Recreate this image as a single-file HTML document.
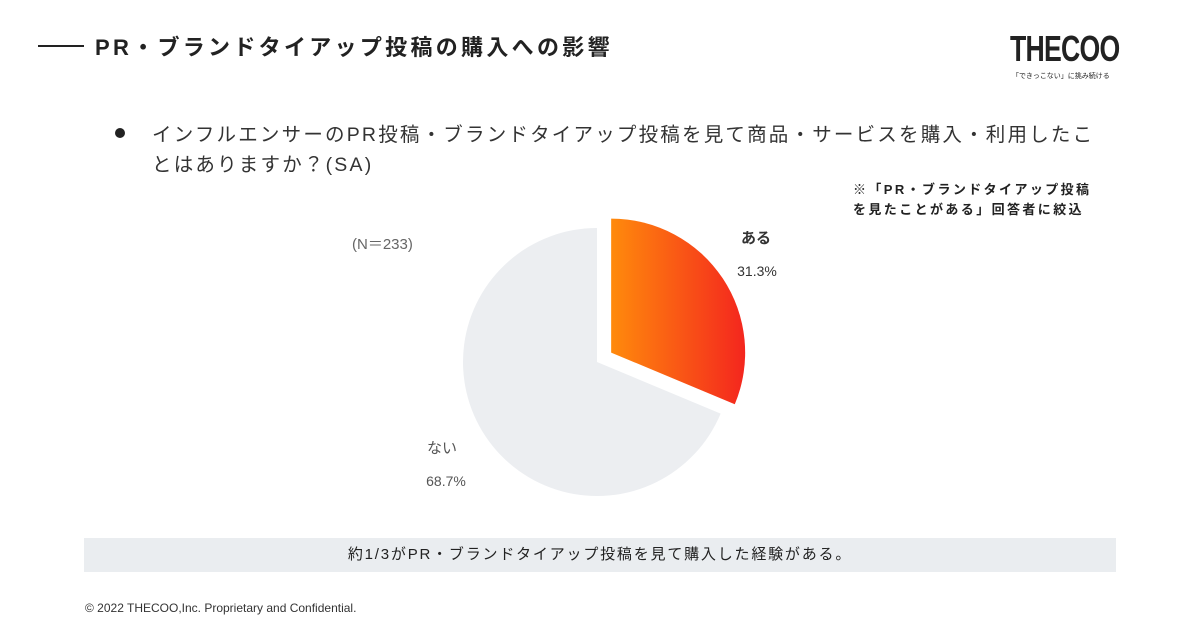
<!DOCTYPE html>
<html><head><meta charset="utf-8"><style>
body{margin:0;width:1200px;height:630px;background:#fff;font-family:"Liberation Sans","Noto Sans CJK JP",sans-serif;position:relative;overflow:hidden;color:#222}
.abs{position:absolute;white-space:nowrap}
</style></head><body>
<div class="abs" style="left:38px;top:45px;width:46px;height:2px;background:#222"></div>
<div class="abs" style="left:95px;top:30px;font-size:22px;font-weight:bold;letter-spacing:3.3px">PR・ブランドタイアップ投稿の購入への影響</div>
<div class="abs" style="left:1010px;top:28px;font-size:36px;font-weight:bold;letter-spacing:-1px;transform:scaleX(0.74);transform-origin:left;font-family:'Liberation Sans Narrow','Liberation Sans',sans-serif">THECOO</div>
<div class="abs" style="left:1012px;top:71px;font-size:7px">「できっこない」に挑み続ける</div>
<div class="abs" style="left:115px;top:128px;width:10px;height:10px;border-radius:50%;background:#222"></div>
<div class="abs" style="left:152px;top:120px;font-size:19.5px;line-height:30px;color:#333;letter-spacing:2.2px">インフルエンサーのPR投稿・ブランドタイアップ投稿を見て商品・サービスを購入・利用したこ<br>とはありますか？(SA)</div>
<div class="abs" style="left:853px;top:180px;font-size:13px;font-weight:bold;line-height:20px;letter-spacing:2.4px">※「PR・ブランドタイアップ投稿<br>を見たことがある」回答者に絞込</div>
<div class="abs" style="left:352px;top:233px;font-size:15px;color:#666">(N＝233)</div>
<svg class="abs" style="left:0;top:0" width="1200" height="630">
<defs><linearGradient id="g" x1="0" x2="1" y1="0" y2="0"><stop offset="0" stop-color="#ff8a0c"/><stop offset="1" stop-color="#f4261e"/></linearGradient></defs>
<g id="pie"></g>
<text x="756" y="243" font-size="15" font-weight="bold" text-anchor="middle" fill="#333">ある</text>
<text x="757" y="276" font-size="14" text-anchor="middle" fill="#333">31.3%</text>
<text x="442" y="453" font-size="15" text-anchor="middle" fill="#555">ない</text>
<text x="446" y="486" font-size="14" text-anchor="middle" fill="#555">68.7%</text>
</svg>
<div class="abs" style="left:84px;top:538px;width:1032px;height:34px;background:#eaedf0;font-size:15px;line-height:34px;text-align:center;color:#222;letter-spacing:1.8px">約1/3がPR・ブランドタイアップ投稿を見て購入した経験がある。</div>
<div class="abs" style="left:85px;top:601px;font-size:12px;color:#333">© 2022 THECOO,Inc. Proprietary and Confidential.</div>
<script>
const categories=["ある","ない"];
const values=[31.3,68.7];
const cx=597,cy=362,r=134,explode=[17,0];
const fills=["url(#g)","#eceef1"];
const g=document.getElementById('pie');
const total=values.reduce((a,b)=>a+b,0);
let a0=0;
values.forEach((v,i)=>{
  const a1=a0+v/total*2*Math.PI, mid=(a0+a1)/2;
  const ox=cx+explode[i]*Math.sin(mid), oy=cy-explode[i]*Math.cos(mid);
  const x0=ox+r*Math.sin(a0),y0=oy-r*Math.cos(a0),x1=ox+r*Math.sin(a1),y1=oy-r*Math.cos(a1);
  const p=document.createElementNS('http://www.w3.org/2000/svg','path');
  p.setAttribute('d',`M${ox},${oy}L${x0},${y0}A${r},${r} 0 ${a1-a0>Math.PI?1:0} 1 ${x1},${y1}Z`);
  p.setAttribute('fill',fills[i]);
  
  
  g.appendChild(p);
  a0=a1;
});
</script>
</body></html>
